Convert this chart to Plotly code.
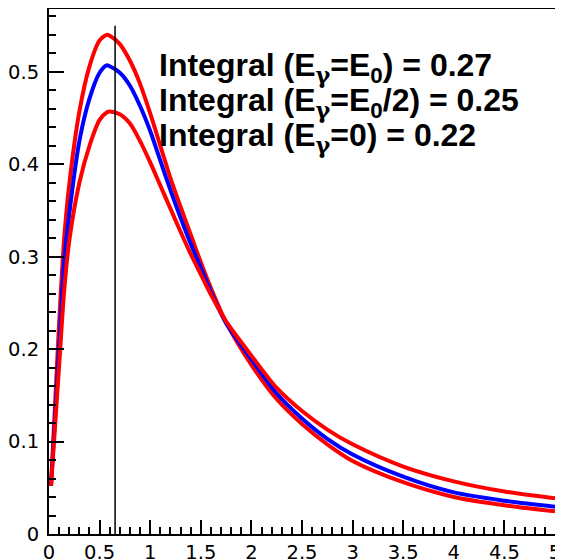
import plotly.graph_objects as go

# x samples (shared by the three curves)
x_vals = [0.02, 0.06, 0.1, 0.15, 0.2, 0.3, 0.4, 0.5, 0.57, 0.6, 0.7, 0.8, 0.9, 1.0,
          1.1, 1.2, 1.3, 1.4, 1.5, 1.6, 1.75, 2.0, 2.25, 2.5, 2.75, 3.0, 3.5, 4.0, 4.5, 5.0]

# E_gamma = E0 (tall red peak, lowest tail)
red_high = [0.052, 0.140, 0.228, 0.320, 0.378, 0.457, 0.506, 0.534, 0.540, 0.539, 0.530, 0.512,
            0.487, 0.455, 0.420, 0.385, 0.354, 0.324, 0.294, 0.266, 0.229, 0.183, 0.146,
            0.119, 0.097, 0.079, 0.056, 0.040, 0.031, 0.0245]
# E_gamma = E0/2 (blue)
blue_mid = [0.052, 0.127, 0.202, 0.295, 0.346, 0.425, 0.471, 0.499, 0.507, 0.506, 0.499, 0.485,
            0.463, 0.436, 0.404, 0.372, 0.342, 0.314, 0.288, 0.262, 0.228, 0.189, 0.152,
            0.125, 0.103, 0.086, 0.062, 0.045, 0.036, 0.0296]
# E_gamma = 0 (low red peak, highest tail)
red_low = [0.052, 0.117, 0.182, 0.263, 0.317, 0.380, 0.420, 0.448, 0.456, 0.457, 0.454, 0.444,
           0.425, 0.402, 0.377, 0.352, 0.327, 0.303, 0.281, 0.259, 0.230, 0.193, 0.158,
           0.133, 0.113, 0.097, 0.073, 0.057, 0.046, 0.0386]

ref_x = 0.653
ref_top = 0.55

g = '<span style="font-family:DejaVu Serif">γ</span>'
labels = ["Integral (E<sub>" + g + "</sub>=E<sub>0</sub>) = 0.27",
          "Integral (E<sub>" + g + "</sub>=E<sub>0</sub>/2) = 0.25",
          "Integral (E<sub>" + g + "</sub>=0) = 0.22"]

fig = go.Figure()
for ys, col in [(red_high, "#ff0000"), (blue_mid, "#0000ff"), (red_low, "#ff0000")]:
    fig.add_trace(go.Scatter(x=x_vals, y=ys, mode="lines",
                             line=dict(color=col, width=4, shape="spline", smoothing=0.8),
                             showlegend=False, hoverinfo="skip"))

fig.add_shape(type="line", xref="x", yref="y", x0=ref_x, x1=ref_x, y0=0, y1=ref_top,
              line=dict(color="black", width=1.5))

line_y = [0.889, 0.822, 0.755]
for t, yy in zip(labels, line_y):
    fig.add_annotation(text="<b>" + t + "</b>", xref="paper", yref="paper", x=0.2134, y=yy,
                       xanchor="left", yanchor="middle", showarrow=False,
                       font=dict(family="Liberation Sans, Arial", size=32, color="black"))

axis_common = dict(showline=True, linecolor="black", linewidth=2, mirror=True,
                   ticks="inside", tickcolor="black", tickwidth=1.5,
                   showgrid=False, zeroline=False, automargin=False,
                   tickfont=dict(family="DejaVu Sans", size=19.5, color="black"))

fig.update_xaxes(range=[0, 5], dtick=0.5, tick0=0, ticklen=14,
                 minor=dict(dtick=0.1, ticklen=7, ticks="inside", tickcolor="black", tickwidth=1.5),
                 ticklabelstandoff=0, **axis_common)
fig.update_yaxes(range=[0, 0.568], dtick=0.1, tick0=0, ticklen=15,
                 minor=dict(dtick=0.02, ticklen=7, ticks="inside", tickcolor="black", tickwidth=1.5),
                 ticklabelstandoff=4, **axis_common)

# page body has an 8px margin, so the figure is placed at (8, 8) in the window
fig.update_layout(width=555, height=552, margin=dict(l=41, r=8, t=1, b=26, autoexpand=False),
                  paper_bgcolor="white", plot_bgcolor="white")

fig.write_html("out.html")
